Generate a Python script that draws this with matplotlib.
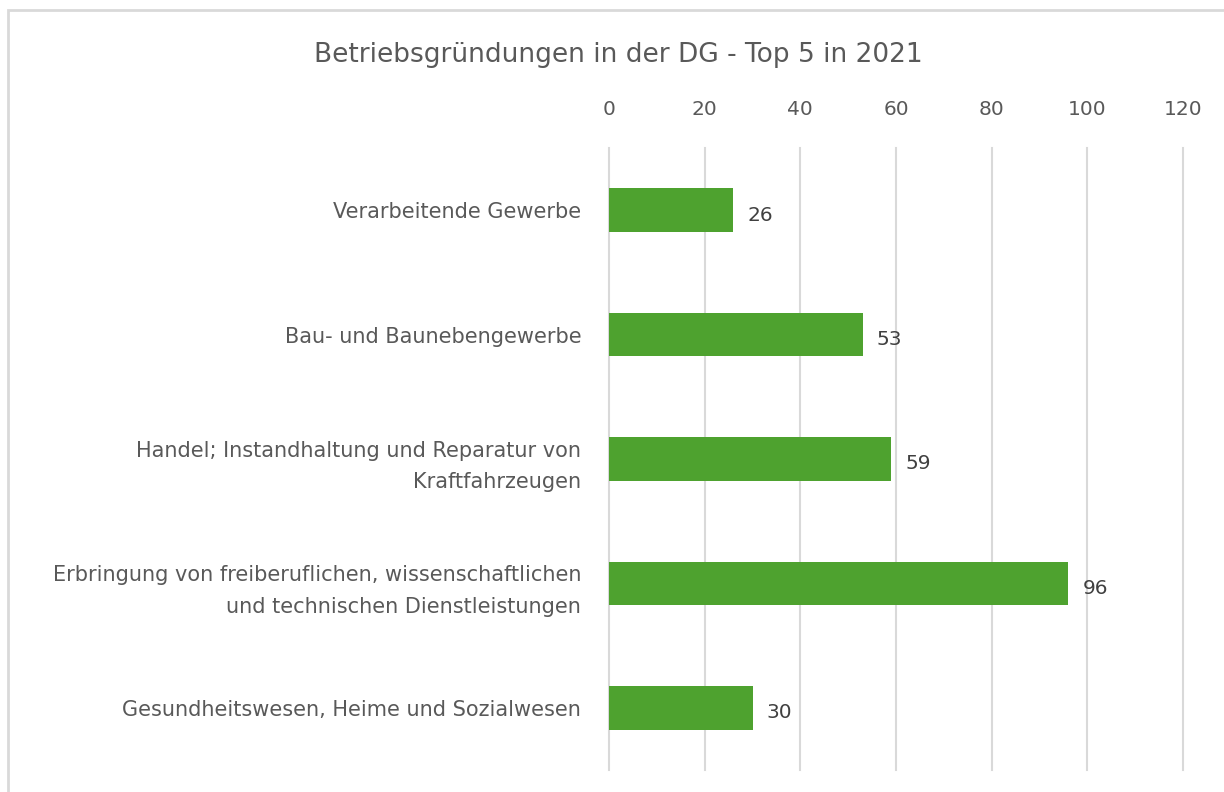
import matplotlib
matplotlib.use("Agg")
import matplotlib.pyplot as plt
from matplotlib.patches import Rectangle

plt.rcParams['font.family'] = ['DejaVu Sans']

# data
categories = [
    "Verarbeitende Gewerbe",
    "Bau- und Baunebengewerbe",
    "Handel; Instandhaltung und Reparatur von\nKraftfahrzeugen",
    "Erbringung von freiberuflichen, wissenschaftlichen\nund technischen Dienstleistungen",
    "Gesundheitswesen, Heime und Sozialwesen",
]
values = [26, 53, 59, 96, 30]
xticks = [0, 20, 40, 60, 80, 100, 120]
title = "Betriebsgründungen in der DG - Top 5 in 2021"

bar_color = "#4ea22f"
text_color = "#595959"

fig = plt.figure(figsize=(12.24, 7.92), dpi=100)
ax = fig.add_axes([609 / 1224, 1 - 770 / 792, (1183 - 609) / 1224, (770 - 148) / 792])

ypos = list(range(len(categories)))
ax.barh(ypos, values, height=0.35, color=bar_color, zorder=3)
for y, v in zip(ypos, values):
    ax.text(v + 3.0, y + 0.04, str(v), va="center", ha="left", fontsize=14.5, color="#404040")

ax.set_xlim(0, 120)
ax.set_ylim(len(categories) - 0.5, -0.5)
ax.set_xticks(xticks)
ax.xaxis.tick_top()
ax.tick_params(axis="x", length=0, pad=21, labelsize=14.5, labelcolor=text_color)
ax.set_yticks(ypos)
ax.set_yticklabels(categories, fontsize=15, color=text_color, linespacing=1.7)
ax.tick_params(axis="y", length=0, pad=20)
ax.grid(axis="x", color="#d9d9d9", linewidth=1.5, zorder=0)
for line in ax.get_xgridlines():
    line.set_clip_on(False)
for s in ax.spines.values():
    s.set_visible(False)

fig.text(618 / 1224, 1 - 55 / 792, title, ha="center", va="center", fontsize=19, color=text_color)

# chart frame
fig.patches.append(Rectangle((8 / 1224, -0.1), 1.2, 1 - 10 / 792 + 0.1, transform=fig.transFigure,
                             fill=False, edgecolor="#d9d9d9", linewidth=2))

fig.savefig("out.png", dpi=100)
